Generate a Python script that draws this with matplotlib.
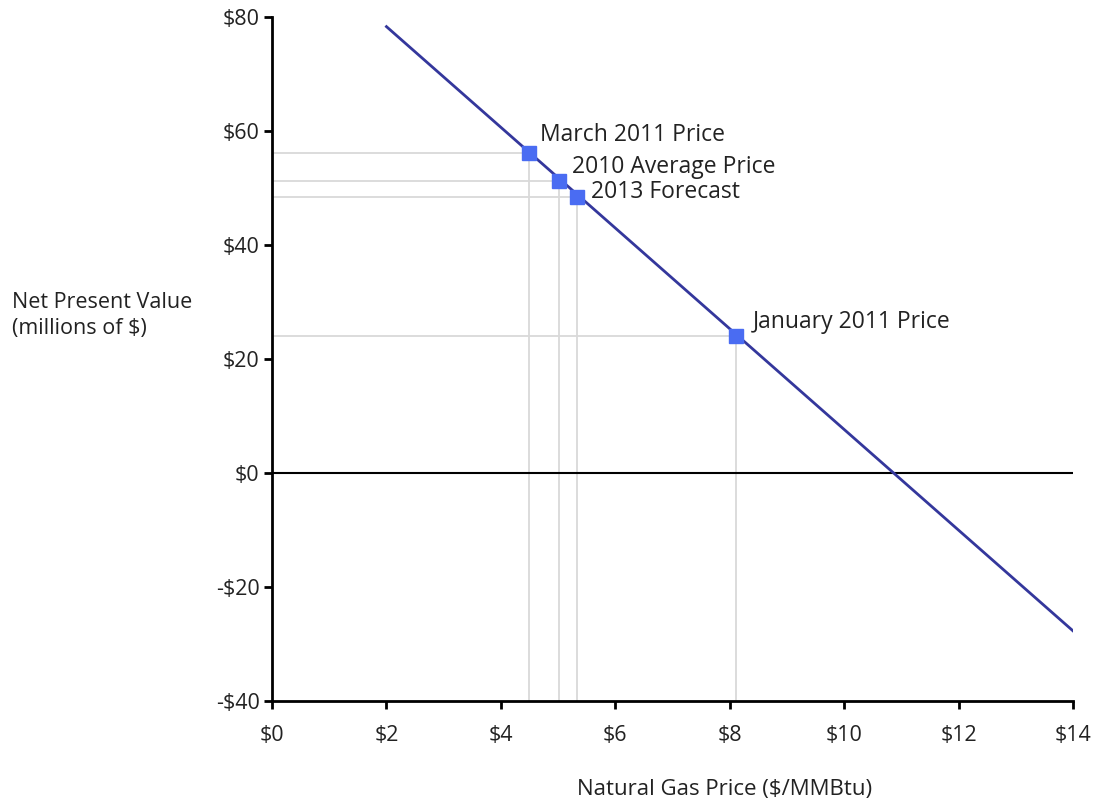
import matplotlib.pyplot as plt

plt.rcParams['font.family'] = ['Open Sans', 'DejaVu Sans']

# NPV line vs. natural gas price
line_x = [2, 14]
line_y = [78.3, -27.7]

# highlighted prices
pt_names = ['March 2011 Price', '2010 Average Price', '2013 Forecast', 'January 2011 Price']
pt_x = [4.49, 5.02, 5.33, 8.11]
pt_y = [56.1, 51.3, 48.4, 24.0]
label_offsets = [(8, 13), (9, 10), (10, 4), (12, 10)]

xticks = [0, 2, 4, 6, 8, 10, 12, 14]
yticks = [-40, -20, 0, 20, 40, 60, 80]

fig = plt.figure(figsize=(10.96, 8.06), dpi=100)
ax = fig.add_axes([0.2482, 0.1303, 0.7308, 0.8487])

for x, y in zip(pt_x, pt_y):
    ax.plot([0, x], [y, y], color='#d9d9d9', lw=1.3, zorder=1)
    ax.plot([x, x], [-40, y], color='#d9d9d9', lw=1.3, zorder=1)

ax.axhline(0, color='black', lw=1.5, zorder=2)
ax.plot(line_x, line_y, color='#34379c', lw=2, zorder=3)
ax.plot(pt_x, pt_y, 's', color='#4a6cf2', markersize=10, zorder=4)

for name, x, y, off in zip(pt_names, pt_x, pt_y, label_offsets):
    ax.annotate(name, (x, y), xytext=off, textcoords='offset points',
                fontsize=16.5, color='#222222', ha='left', va='center')

ax.set_xlim(0, 14)
ax.set_ylim(-40, 80)
ax.set_xticks(xticks)
ax.set_xticklabels(['$' + str(v) for v in xticks])
ax.set_yticks(yticks)
ax.set_yticklabels([('-$' + str(-v)) if v < 0 else ('$' + str(v)) for v in yticks])
ax.tick_params(labelsize=15.5, colors='black', length=6, width=2, labelcolor='#222222')
ax.tick_params(axis='x', pad=11)
ax.tick_params(axis='y', pad=3)
ax.spines['top'].set_visible(False)
ax.spines['right'].set_visible(False)
ax.spines['left'].set_linewidth(2)
ax.spines['bottom'].set_linewidth(2)

fig.text(0.011, 0.609, 'Net Present Value\n(millions of $)', fontsize=15.5,
         color='#222222', ha='left', va='center', linespacing=1.3)
fig.text(0.661, 0.02, 'Natural Gas Price ($/MMBtu)', fontsize=16,
         color='#222222', ha='center', va='center')

fig.savefig('out.png', dpi=100)
